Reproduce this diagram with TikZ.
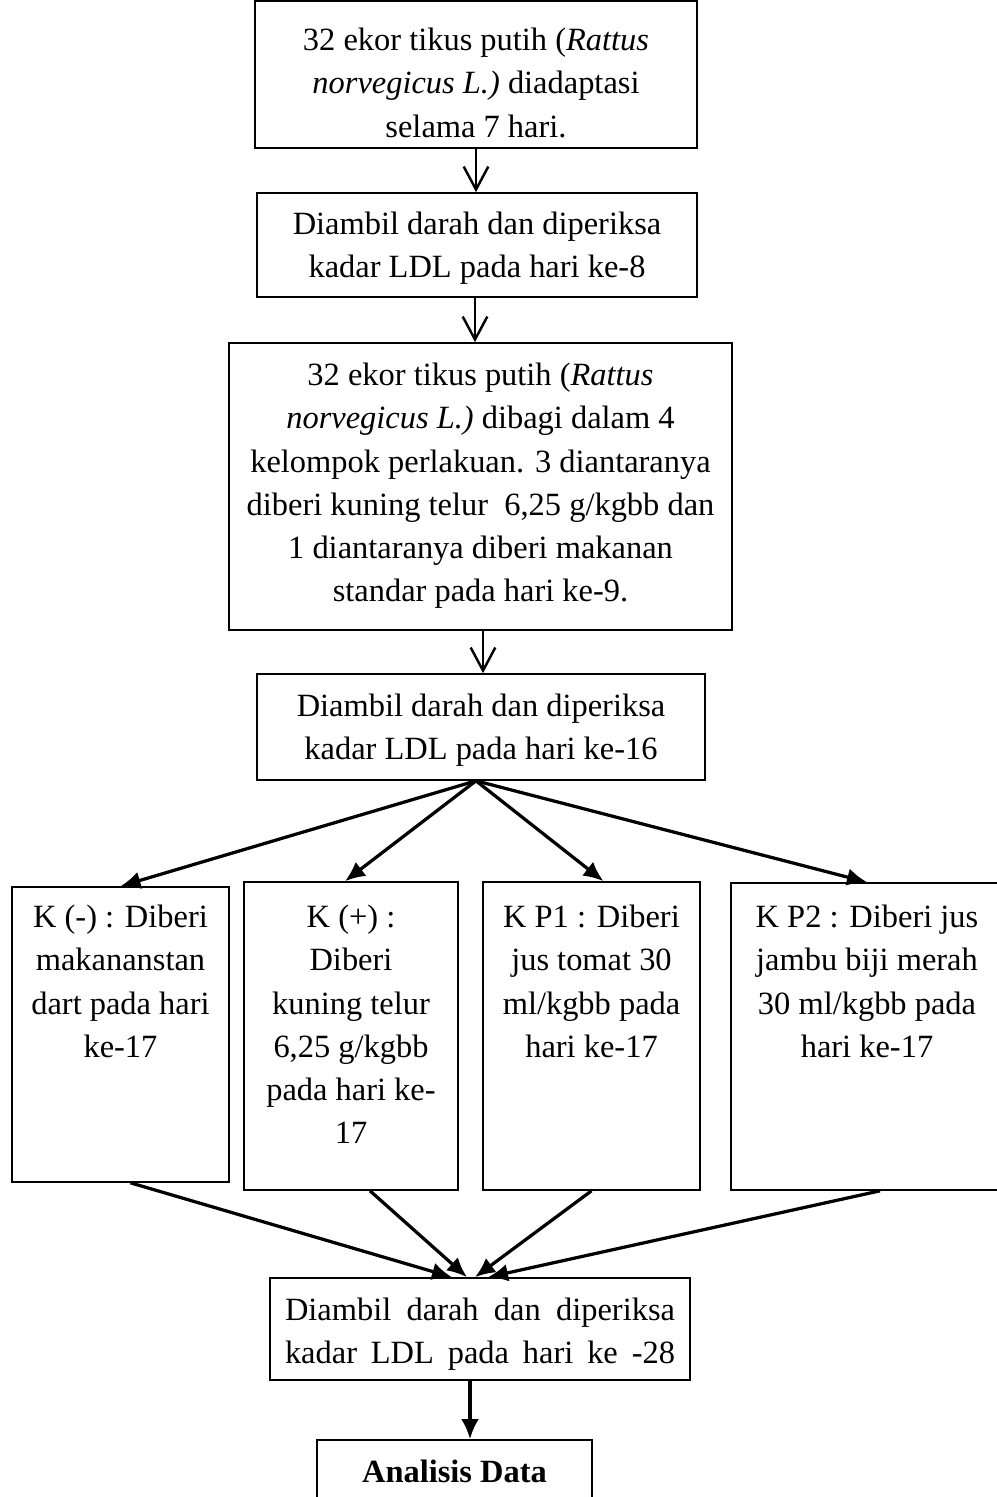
\documentclass[tikz,border=0pt]{standalone}
\usepackage{fontspec}
\setmainfont{Liberation Serif}
\usetikzlibrary{arrows.meta,calc}

\newlength{\px}
\setlength{\px}{0.013cm}
% box content: width, height, top padding, text
\newcommand{\isi}[4]{\parbox[c][#2\px][t]{#1\px}{\centering\vspace*{#3\px}#4}}

\tikzset{
	kotak/.style={draw, line width=.6pt, inner sep=0pt, font=\fontsize{12}{16}\selectfont},
	panah/.style={-{Straight Barb[length=3mm,width=3.2mm]}, line width=.9pt},
	panahpenuh/.style={-{Latex[length=2.6mm,width=2.3mm]}, line width=1.2pt}
}

\begin{document}
\begin{tikzpicture}[x=0.013cm, y=-0.013cm]
	\useasboundingbox (0,0) rectangle (996,1497);

	% adaptation
	\node[kotak] (b1) at (476,74.5) {\isi{442}{147}{27}{32 ekor tikus putih (\textit{Rattus}\\
		\textit{norvegicus L.)} diadaptasi\\ selama 7 hari.}};
	\node[kotak] (b2) at (477,245) {\isi{440}{104}{19}{Diambil darah dan diperiksa\\
		kadar LDL pada hari ke-8}};
	\node[kotak] (b3) at (480.5,486.5) {\isi{503}{287}{20}{32 ekor tikus putih (\textit{Rattus}\\
		\textit{norvegicus L.)} dibagi dalam 4\\ kelompok perlakuan. 3 diantaranya\\
		diberi kuning telur\ \ 6,25 g/kgbb dan\\ 1 diantaranya diberi makanan\\
		standar pada hari ke-9.}};
	\node[kotak] (b4) at (481,727) {\isi{448}{106}{20}{Diambil darah dan diperiksa\\
		kadar LDL pada hari ke-16}};

	\draw[panah] (b1.south) -- (b1.south |- b2.north);
	\draw[panah] ($(b2.south)+(-2,0)$) coordinate (c2) -- (c2 |- b3.north);
	\draw[panah] ($(b3.south)+(2.5,0)$) coordinate (c3) -- (c3 |- b4.north);

	% treatment groups
	\node[kotak] (b5) at (120.5,1034.5) {\isi{217}{295}{18}{K (-) : Diberi\\ makananstan\\
		dart pada hari\\ ke-17}};
	\node[kotak] (b6) at (351,1036) {\isi{214}{308}{23}{K (+) :\\ Diberi\\ kuning telur\\
		6,25 g/kgbb\\ pada hari ke-\\ 17}};
	\node[kotak] (b7) at (591.5,1036) {\isi{217}{308}{23}{K P1 : Diberi\\ jus tomat 30\\
		ml/kgbb pada\\ hari ke-17}};
	\node[kotak] (b8) at (867,1036.5) {\isi{272}{307}{22}{K P2 : Diberi jus\\ jambu biji merah\\
		30 ml/kgbb pada\\ hari ke-17}};

	\coordinate (pecah) at ($(b4.south)+(-5,0)$);
	\draw[panahpenuh] (pecah) -- (b5.north);
	\draw[panahpenuh] (pecah) -- ($(b6.north)+(-6,0)$);
	\draw[panahpenuh] (pecah) -- ($(b7.north)+(12,0)$);
	\draw[panahpenuh] (pecah) -- (b8.north);

	% final measurement
	\node[kotak] (b9) at (480,1329) {\isi{420}{102}{20}{\makebox[390\px][s]{Diambil darah dan diperiksa}\\
		\makebox[390\px][s]{kadar LDL pada hari ke -28}}};
	\node[kotak] (b10) at (454.5,1490) {\isi{275}{100}{20}{\textbf{Analisis Data}}};

	\draw[panahpenuh] ($(b5.south)+(10,0)$) -- ($(b9.north)+(-28,0)$);
	\draw[panahpenuh] ($(b6.south)+(19,0)$) -- ($(b9.north)+(-13,0)$);
	\draw[panahpenuh] (b7.south) -- ($(b9.north)+(-5,0)$);
	\draw[panahpenuh] ($(b8.south)+(13,0)$) -- ($(b9.north)+(8,0)$);

	\draw[panahpenuh] ($(b9.south)+(-10,0)$) coordinate (c9) -- (c9 |- b10.north);
\end{tikzpicture}
\end{document}
